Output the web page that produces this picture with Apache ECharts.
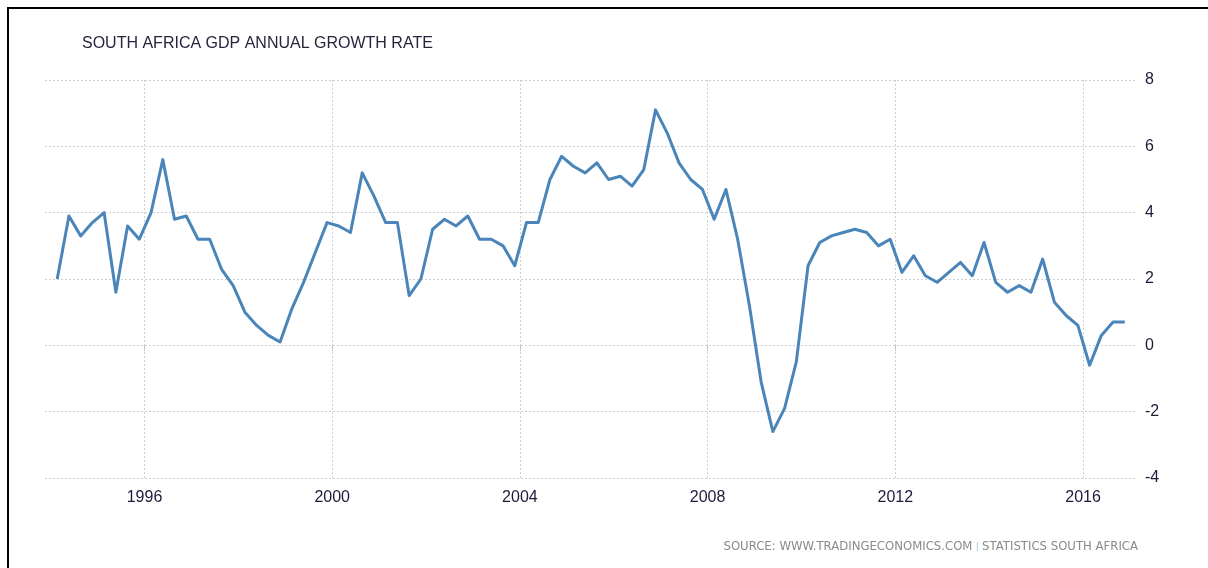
<!DOCTYPE html>
<html>
<head>
<meta charset="utf-8">
<script src="https://cdn.jsdelivr.net/npm/echarts@6/dist/echarts.min.js"></script>
<style>
  html, body { margin: 0; padding: 0; background: #fff; }
  #chart { width: 1208px; height: 568px; }
</style>
</head>
<body>
<div id="chart"></div>
<script>
// 季度数据 1994Q1 - 2016Q4
const startYear = 1994
const growth = [
    2.0, 3.9, 3.3, 3.7,   // 1994
    4.0, 1.6, 3.6, 3.2,   // 1995
    4.0, 5.6, 3.8, 3.9,   // 1996
    3.2, 3.2, 2.3, 1.8,   // 1997
    1.0, 0.6, 0.3, 0.1,   // 1998
    1.1, 1.9, 2.8, 3.7,   // 1999
    3.6, 3.4, 5.2, 4.5,   // 2000
    3.7, 3.7, 1.5, 2.0,   // 2001
    3.5, 3.8, 3.6, 3.9,   // 2002
    3.2, 3.2, 3.0, 2.4,   // 2003
    3.7, 3.7, 5.0, 5.7,   // 2004
    5.4, 5.2, 5.5, 5.0,   // 2005
    5.1, 4.8, 5.3, 7.1,   // 2006
    6.4, 5.5, 5.0, 4.7,   // 2007
    3.8, 4.7, 3.2, 1.2,   // 2008
    -1.1, -2.6, -1.9, -0.5, // 2009
    2.4, 3.1, 3.3, 3.4,   // 2010
    3.5, 3.4, 3.0, 3.2,   // 2011
    2.2, 2.7, 2.1, 1.9,   // 2012
    2.2, 2.5, 2.1, 3.1,   // 2013
    1.9, 1.6, 1.8, 1.6,   // 2014
    2.6, 1.3, 0.9, 0.6,   // 2015
    -0.6, 0.3, 0.7, 0.7   // 2016
]
const yearTicks = [1996, 2000, 2004, 2008, 2012, 2016]
const yTicks = [-4, -2, 0, 2, 4, 6, 8]

// 季度中点(小数年)
const points = growth.map(function (v, i) {
    const year = startYear + Math.floor(i / 4)
    const q = i % 4
    return [year + q * 0.25 + 0.14, v]
})

const labelFont = 'Liberation Sans, Arial, sans-serif'
const gridStyle = { color: '#cfcfcf', type: [2, 2], width: 1 }

var myChart = echarts.init(document.getElementById('chart'))
var option = {
    animation: false,
    backgroundColor: '#fff',
    title: {
        text: 'SOUTH AFRICA GDP ANNUAL GROWTH RATE',
        left: 77,
        top: 31,
        textStyle: {
            fontFamily: 'Liberation Sans, sans-serif',
            fontSize: 16,
            fontWeight: 'normal',
            color: '#25253f'
        }
    },
    graphic: [
        {
            type: 'polyline',
            shape: { points: [[8, 568], [8, 8], [1208, 8]] },
            style: { stroke: '#000', lineWidth: 2, fill: null }
        },
        {
            type: 'text',
            right: 70,
            top: 541,
            style: {
                text: '{a|SOURCE: WWW.TRADINGECONOMICS.COM} {b||} {a|STATISTICS SOUTH AFRICA}',
                rich: {
                    a: { fontFamily: 'DejaVu Sans, sans-serif', fontSize: 11.7, fill: '#8a8a8a' },
                    b: { fontFamily: 'DejaVu Sans, sans-serif', fontSize: 9, fill: '#9fc3e0' }
                }
            }
        }
    ],
    grid: {
        left: 45,
        right: 71,
        top: 80,
        bottom: 90
    },
    xAxis: {
        type: 'value',
        min: 1993.88,
        max: 2017.15,
        axisLine: { show: false },
        axisTick: {
            show: true,
            customValues: yearTicks,
            length: 6,
            lineStyle: { color: '#c8c8c8' }
        },
        axisLabel: {
            customValues: yearTicks,
            margin: 12,
            fontFamily: labelFont,
            fontSize: 16,
            color: '#1c1c3a',
            formatter: function (v) { return String(Math.round(v)) }
        },
        splitLine: { show: true, lineStyle: gridStyle }
    },
    yAxis: {
        type: 'value',
        position: 'right',
        min: yTicks[0],
        max: yTicks[yTicks.length - 1],
        interval: 2,
        axisLine: { show: false },
        axisTick: { show: false },
        axisLabel: {
            margin: 8,
            fontFamily: labelFont,
            fontSize: 16,
            color: '#1c1c3a'
        },
        splitLine: { show: true, lineStyle: gridStyle }
    },
    series: [
        {
            type: 'line',
            data: points,
            showSymbol: false,
            symbol: 'none',
            lineStyle: { color: '#4a85b9', width: 3, join: 'round' }
        }
    ]
}
myChart.setOption(option)
</script>
</body>
</html>
